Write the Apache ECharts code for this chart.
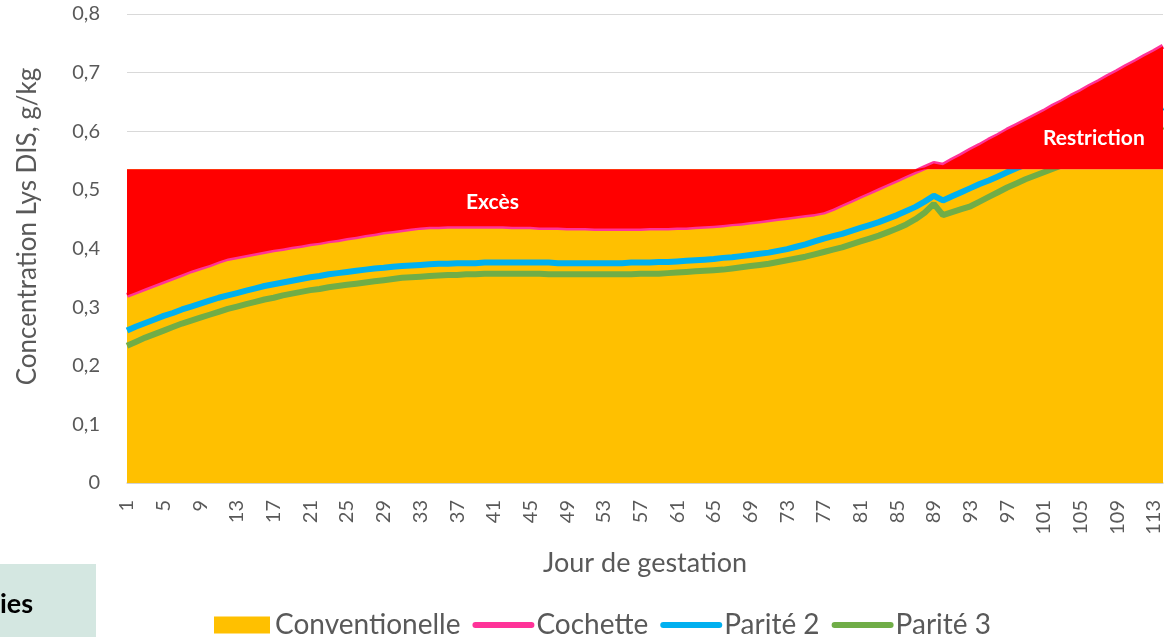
<!DOCTYPE html>
<html>
<head>
<meta charset="utf-8">
<script src="https://cdn.jsdelivr.net/npm/echarts@6.0.0/dist/echarts.min.js"></script>
<style>
  html, body { margin: 0; padding: 0; background: #fff; }
  #chart { width: 1176px; height: 637px; }
</style>
</head>
<body>
<div id="chart"></div>
<script>
// jours de gestation 1..114
const days = Array.from({ length: 114 }, (_, i) => String(i + 1));

// aliment conventionnel (niveau constant)
const conventionelle = [
  0.535, 0.535, 0.535, 0.535, 0.535, 0.535, 0.535, 0.535, 0.535, 0.535, 0.535, 0.535, 0.535, 0.535, 0.535, 0.535, 0.535, 0.535, 0.535,
  0.535, 0.535, 0.535, 0.535, 0.535, 0.535, 0.535, 0.535, 0.535, 0.535, 0.535, 0.535, 0.535, 0.535, 0.535, 0.535, 0.535, 0.535, 0.535,
  0.535, 0.535, 0.535, 0.535, 0.535, 0.535, 0.535, 0.535, 0.535, 0.535, 0.535, 0.535, 0.535, 0.535, 0.535, 0.535, 0.535, 0.535, 0.535,
  0.535, 0.535, 0.535, 0.535, 0.535, 0.535, 0.535, 0.535, 0.535, 0.535, 0.535, 0.535, 0.535, 0.535, 0.535, 0.535, 0.535, 0.535, 0.535,
  0.535, 0.535, 0.535, 0.535, 0.535, 0.535, 0.535, 0.535, 0.535, 0.535, 0.535, 0.535, 0.535, 0.535, 0.535, 0.535, 0.535, 0.535, 0.535,
  0.535, 0.535, 0.535, 0.535, 0.535, 0.535, 0.535, 0.535, 0.535, 0.535, 0.535, 0.535, 0.535, 0.535, 0.535, 0.535, 0.535, 0.535, 0.535
];

const cochette = [
  0.320, 0.326, 0.332, 0.338, 0.344, 0.350, 0.356, 0.362, 0.367, 0.372,
  0.378, 0.383, 0.386, 0.389, 0.392, 0.395, 0.398, 0.400, 0.403, 0.405,
  0.408, 0.410, 0.413, 0.415, 0.418, 0.420, 0.423, 0.425, 0.428, 0.430,
  0.432, 0.434, 0.436, 0.437, 0.437, 0.438, 0.438, 0.438, 0.438, 0.438,
  0.438, 0.438, 0.437, 0.437, 0.437, 0.436, 0.436, 0.436, 0.435, 0.435,
  0.435, 0.434, 0.434, 0.434, 0.434, 0.434, 0.434, 0.435, 0.435, 0.435,
  0.436, 0.436, 0.437, 0.438, 0.439, 0.440, 0.442, 0.443, 0.445, 0.447,
  0.449, 0.451, 0.453, 0.455, 0.457, 0.459, 0.462, 0.468, 0.475, 0.482,
  0.489, 0.496, 0.503, 0.510, 0.517, 0.524, 0.531, 0.538, 0.545, 0.542,
  0.551, 0.559, 0.568, 0.576, 0.585, 0.593, 0.602, 0.610, 0.618, 0.626,
  0.634, 0.643, 0.651, 0.660, 0.668, 0.677, 0.685, 0.694, 0.702, 0.711,
  0.719, 0.728, 0.736, 0.745
];

const parite2 = [
  0.260, 0.267, 0.273, 0.279, 0.285, 0.290, 0.296, 0.301, 0.306, 0.311,
  0.316, 0.320, 0.324, 0.328, 0.332, 0.336, 0.339, 0.342, 0.345, 0.348,
  0.351, 0.353, 0.356, 0.358, 0.360, 0.362, 0.364, 0.366, 0.367, 0.369,
  0.370, 0.371, 0.372, 0.373, 0.374, 0.374, 0.375, 0.375, 0.375, 0.376,
  0.376, 0.376, 0.376, 0.376, 0.376, 0.376, 0.376, 0.375, 0.375, 0.375,
  0.375, 0.375, 0.375, 0.375, 0.375, 0.376, 0.376, 0.376, 0.377, 0.377,
  0.378, 0.379, 0.380, 0.381, 0.382, 0.384, 0.385, 0.387, 0.389, 0.391,
  0.393, 0.396, 0.399, 0.403, 0.407, 0.412, 0.417, 0.421, 0.425, 0.430,
  0.435, 0.440, 0.445, 0.451, 0.457, 0.464, 0.471, 0.480, 0.490, 0.482,
  0.489, 0.496, 0.503, 0.510, 0.516, 0.523, 0.530, 0.537, 0.543, 0.550,
  0.556, 0.563, 0.569, 0.576, 0.582, 0.589, 0.595, 0.602, 0.608, 0.615,
  0.621, 0.628, 0.634, 0.641
];

const parite3 = [
  0.234, 0.241, 0.248, 0.254, 0.260, 0.266, 0.272, 0.277, 0.282, 0.287,
  0.292, 0.297, 0.301, 0.305, 0.309, 0.313, 0.316, 0.320, 0.323, 0.326,
  0.329, 0.331, 0.334, 0.336, 0.338, 0.340, 0.342, 0.344, 0.346, 0.348,
  0.350, 0.351, 0.352, 0.353, 0.354, 0.355, 0.355, 0.356, 0.356, 0.357,
  0.357, 0.357, 0.357, 0.357, 0.357, 0.357, 0.356, 0.356, 0.356, 0.356,
  0.356, 0.356, 0.356, 0.356, 0.356, 0.356, 0.357, 0.357, 0.357, 0.358,
  0.359, 0.360, 0.361, 0.362, 0.363, 0.364, 0.366, 0.368, 0.370, 0.372,
  0.374, 0.377, 0.380, 0.383, 0.386, 0.390, 0.394, 0.398, 0.402, 0.407,
  0.412, 0.417, 0.422, 0.428, 0.434, 0.441, 0.450, 0.461, 0.476, 0.457,
  0.462, 0.467, 0.472, 0.480, 0.488, 0.496, 0.504, 0.511, 0.518, 0.524,
  0.530, 0.536, 0.542, 0.548, 0.554, 0.560, 0.566, 0.572, 0.578, 0.584,
  0.590, 0.596, 0.602, 0.608
];

const yTicks = [0, 0.1, 0.2, 0.3, 0.4, 0.5, 0.6, 0.7, 0.8];

// zone rouge : écart entre besoin cochette et aliment conventionnel
const ecartBase = cochette.map((v, i) => Math.min(v, conventionelle[i]));
const ecart = cochette.map((v, i) => Math.abs(v - conventionelle[i]));

const FONT = 'Lato';
const GREY = '#595959';

let myChart = echarts.init(document.getElementById('chart'));

// icône de légende : trait épais, sans symbole
const legendLine = { itemStyle: { opacity: 0 }, lineStyle: { width: 6, cap: 'round' } };

const opts = {
    animation: false,
    textStyle: { fontFamily: FONT },
    grid: {
        left: 127,
        right: 13,
        top: 14,
        bottom: 154,
        containLabel: false,
        outerBoundsMode: 'none',
    },
    legend: {
        data: [
            { name: 'Conventionelle', icon: 'rect', itemStyle: { borderWidth: 0 } },
            Object.assign({ name: 'Cochette' }, legendLine),
            Object.assign({ name: 'Parité 2' }, legendLine),
            Object.assign({ name: 'Parité 3' }, legendLine),
        ],
        left: 209,
        top: 606,
        itemWidth: 56,
        itemHeight: 17,
        itemGap: 12,
        lineStyle: { width: 6, cap: 'round' },
        textStyle: { fontSize: 28, color: GREY, fontFamily: FONT },
        selectedMode: false,
    },
    xAxis: {
        type: 'category',
        data: days,
        boundaryGap: false,
        name: 'Jour de gestation',
        nameLocation: 'middle',
        nameGap: 67,
        nameTextStyle: { fontSize: 27, color: GREY },
        axisLine: { lineStyle: { color: '#D0D0D0', width: 1.5 } },
        axisTick: { show: false },
        axisLabel: {
            interval: 3,
            rotate: 90,
            margin: 17,
            fontSize: 20,
            color: GREY,
        },
        splitLine: { show: false },
    },
    yAxis: {
        type: 'value',
        min: 0,
        max: 0.8,
        interval: 0.1,
        name: 'Concentration Lys DIS, g/kg',
        nameLocation: 'middle',
        nameGap: 86,
        nameTextStyle: { fontSize: 26, color: GREY, padding: [0, 0, 0, 44] },
        axisLine: { show: false },
        axisTick: { show: false },
        axisLabel: {
            margin: 27,
            fontSize: 20,
            color: GREY,
            formatter: (v) => {
                const t = yTicks.find((x) => Math.abs(x - v) < 1e-6);
                return t === 0 ? '0' : t.toFixed(1).replace('.', ',');
            },
        },
        splitLine: { lineStyle: { color: '#D9D9D9', width: 1 } },
    },
    series: [
        {
            name: 'Conventionelle',
            type: 'line',
            data: conventionelle,
            symbol: 'none',
            color: '#FFC000',
            lineStyle: { width: 0 },
            areaStyle: { color: '#FFC000', opacity: 1 },
            z: 1,
            silent: true,
        },
        {
            name: 'Cochette',
            type: 'line',
            data: cochette,
            symbol: 'none',
            color: '#FF3399',
            lineStyle: { width: 5, color: '#FF3399' },
            z: 2,
            silent: true,
        },
        {
            name: 'Parité 2',
            type: 'line',
            data: parite2,
            symbol: 'none',
            color: '#00B0F0',
            lineStyle: { width: 6, color: '#00B0F0' },
            z: 3,
            silent: true,
        },
        {
            name: 'Parité 3',
            type: 'line',
            data: parite3,
            symbol: 'none',
            color: '#70AD47',
            lineStyle: { width: 6, color: '#70AD47' },
            z: 3,
            silent: true,
        },
        {
            name: 'base',
            type: 'line',
            stack: 'ecart',
            data: ecartBase,
            symbol: 'none',
            lineStyle: { width: 0, opacity: 0 },
            z: 4,
            silent: true,
        },
        {
            name: 'Excès / Restriction',
            type: 'line',
            stack: 'ecart',
            data: ecart,
            symbol: 'none',
            color: '#FF0000',
            lineStyle: { width: 0, opacity: 0 },
            areaStyle: { color: '#FF0000', opacity: 1 },
            z: 4,
            silent: true,
        },
    ],
    graphic: [
        {
            type: 'text',
            left: 466,
            top: 192,
            z: 10,
            style: { text: 'Excès', fill: '#fff', font: 'bold 21px Lato' },
        },
        {
            type: 'text',
            left: 1043,
            top: 128,
            z: 10,
            style: { text: 'Restriction', fill: '#fff', font: 'bold 21px Lato' },
        },
        {
            type: 'rect',
            left: 0,
            top: 564,
            shape: { width: 96, height: 73 },
            style: { fill: '#D4E7E1' },
        },
        {
            type: 'text',
            x: 0,
            y: 604,
            style: { text: 'ies', fill: '#000', font: 'bold 27px Lato', verticalAlign: 'middle' },
        },
    ],
};

myChart.setOption(opts);
</script>
</body>
</html>
